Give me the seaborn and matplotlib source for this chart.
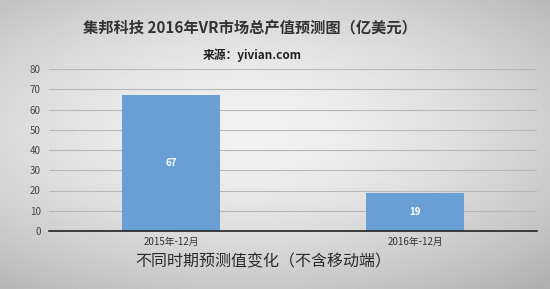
import numpy as np
import pandas as pd
import matplotlib
matplotlib.use("Agg")
import matplotlib.pyplot as plt
import seaborn as sns

categories = ["2015年-12月", "2016年-12月"]
values = [67, 19]
title = "集邦科技 2016年VR市场总产值预测图（亿美元）"
subtitle = "来源：yivian.com"
xlabel = "不同时期预测值变化（不含移动端）"

sns.set_style("white")
plt.rcParams['font.family'] = ['Noto Sans CJK SC', 'DejaVu Sans']

fig = plt.figure(figsize=(5.5, 2.89), dpi=100)

# background gradient
bg = fig.add_axes([0, 0, 1, 1], zorder=-10)
yy, xx = np.mgrid[-1:1:200j, -1:1:400j]
r = np.sqrt(((xx + 0.1) * 0.8) ** 2 + ((yy + 0.1) * 0.9) ** 2)
img = 0.95 - 0.17 * np.clip(r, 0, 1.3) ** 1.6
bg.imshow(img, cmap="gray", vmin=0, vmax=1, aspect="auto", extent=[0, 1, 0, 1])
bg.axis("off")

ax = fig.add_axes([49 / 550, 58 / 289, 488 / 550, 162 / 289])
ax.patch.set_alpha(0)
df = pd.DataFrame({"cat": categories, "val": values})
sns.barplot(data=df, x="cat", y="val", color="#6a9fd6", width=0.4, ax=ax,
            saturation=1, edgecolor="none")
ax.set_ylim(0, 80)
ax.set_xlim(-0.5, 1.5)
ax.set_yticks(range(0, 81, 10))
ax.grid(axis="y", color="#b8b8b8", linewidth=0.8)
ax.set_axisbelow(True)
for s in ["top", "right", "left"]:
    ax.spines[s].set_visible(False)
ax.spines["bottom"].set_color("#222222")
ax.spines["bottom"].set_linewidth(1.2)
ax.tick_params(axis="y", length=0, labelsize=7, colors="#444444", pad=6)
ax.tick_params(axis="x", length=0, labelsize=7, colors="#333333", pad=4)
ax.set_xticks([-0.5, 0.5, 1.5], minor=True)
ax.tick_params(axis="x", which="minor", length=4, color="#222222", direction="out")
ax.set_xlabel(xlabel, fontsize=11.5, color="#2a2a2a", labelpad=5, fontweight="medium", x=0.44)
ax.set_ylabel("")
for p, v in zip(ax.patches, values):
    ax.text(p.get_x() + p.get_width() / 2, v / 2, str(v), ha="center", va="center",
            color="white", fontsize=7, fontweight="bold")

fig.text(250 / 550, 1 - 28 / 289, title, ha="center", va="center", fontsize=11,
         color="#333333", fontweight="bold")
fig.text(252 / 550, 1 - 55 / 289, subtitle, ha="center", va="center", fontsize=8.5,
         color="#222222", fontweight="bold")

fig.savefig("out.png", dpi=100)
